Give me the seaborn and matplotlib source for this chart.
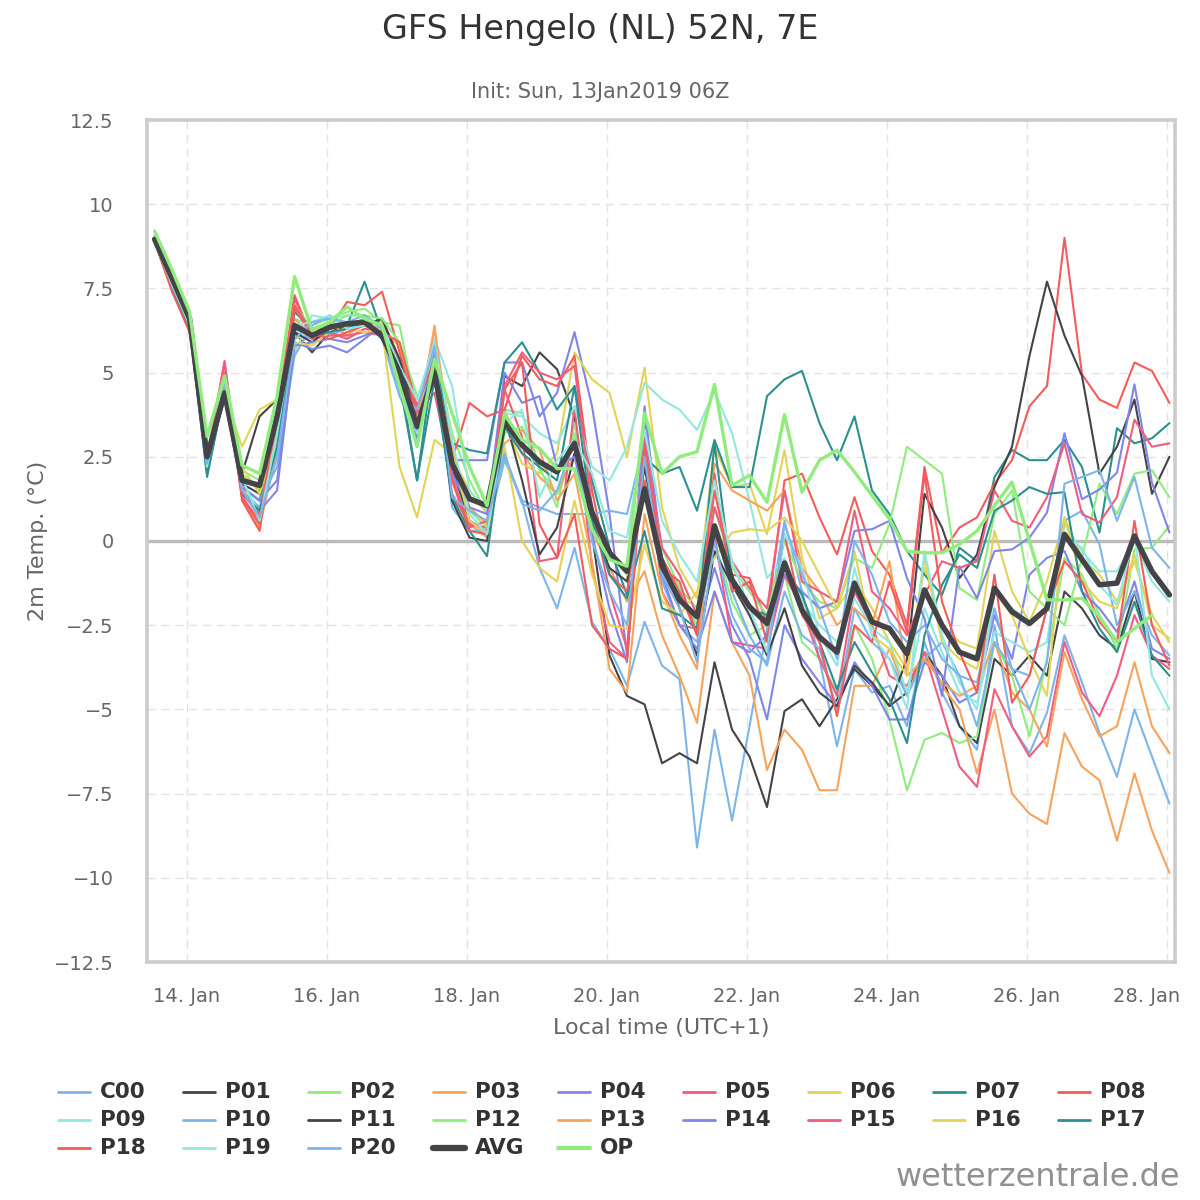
import numpy as np
import pandas as pd
import matplotlib
matplotlib.use("Agg")
import matplotlib.pyplot as plt
from matplotlib.lines import Line2D
from matplotlib.ticker import FixedLocator, FuncFormatter
from matplotlib.transforms import ScaledTranslation
import seaborn as sns

# ---------------- data ----------------
times = pd.date_range("2019-01-13 13:00", periods=59, freq="6h")

c00 = [8.9, 7.6, 6.5, 2.4, 4.6, 1.5, 1.0, 3.0, 6.2, 6.0,
       6.1, 6.3, 6.6, 6.0, 4.3, 3.2, 5.6, 2.0, 0.6, 0.3,
       2.5, 1.2, -0.8, -2.0, -0.2, -2.4, -3.2, -4.3, -2.4, -3.7,
       -4.1, -9.1, -5.6, -8.3, -5.5, -2.6, 0.6, -1.5, -3.5, -6.1,
       -3.8, -4.5, -4.3, -5.5, -3.0, -4.5, -5.5, -6.2, -2.5, -5.5,
       -6.3, -5.1, -2.8, -4.2, -5.7, -7.0, -5.0, -6.4, -7.8]
p01 = [9.0, 7.7, 6.5, 2.6, 4.3, 2.0, 3.7, 4.2, 6.2, 5.6,
       6.2, 6.4, 6.4, 6.6, 5.2, 3.2, 5.2, 2.2, 0.6, 0.2,
       4.9, 4.6, 5.6, 5.1, 3.7, 0.2, -3.4, -4.6, -4.85, -6.6,
       -6.3, -6.6, -3.6, -5.6, -6.4, -7.9, -5.05, -4.7, -5.5, -4.7,
       -3.8, -4.3, -4.9, -4.5, -3.3, -4.0, -5.5, -6.0, -3.5, -4.0,
       -3.4, -4.0, -1.5, -2.0, -2.8, -3.2, -1.5, -3.5, -3.6]
p02 = [9.1, 7.9, 6.7, 2.6, 4.6, 2.0, 1.5, 3.9, 6.6, 6.4,
       6.6, 6.8, 6.9, 6.5, 6.4, 3.8, 5.6, 3.2, 1.8, 0.8,
       3.9, 3.8, 2.2, 1.0, 3.5, 0.5, -0.5, -0.8, 2.2, -1.2,
       -1.5, -2.5, 0.0, -1.8, -2.8, -2.5, -1.0, -3.0, -3.5, -4.5,
       -2.5, -3.5, -5.3, -7.4, -5.9, -5.7, -6.0, -5.8, -3.0, -4.0,
       -5.8, -3.5, -0.5, -1.0, -2.2, -3.2, -0.25, -0.2, 0.45]
p03 = [9.0, 7.8, 6.6, 2.2, 4.8, 1.3, 0.4, 2.7, 6.6, 6.1,
       6.2, 6.0, 6.3, 6.4, 5.0, 3.3, 6.4, 1.8, 0.5, 0.1,
       3.9, 2.6, 1.9, 1.4, 2.6, 0.3, -0.8, -1.8, -0.9, -2.8,
       -4.0, -5.4, -1.5, -3.0, -4.0, -6.8, -5.6, -6.2, -7.4, -7.4,
       -4.3, -4.3, -3.2, -4.6, -3.3, -4.3, -5.0, -6.9, -5.0, -7.5,
       -8.1, -8.4, -5.7, -6.7, -7.1, -8.9, -6.9, -8.6, -9.85]
p04 = [8.9, 7.6, 6.4, 2.4, 4.3, 1.5, 0.9, 1.5, 5.9, 5.7,
       5.8, 5.6, 6.0, 6.4, 5.2, 3.0, 5.0, 2.4, 2.4, 2.4,
       5.3, 5.3, 3.7, 4.4, 6.2, 4.0, 0.8, -3.4, 4.0, -0.5,
       -1.5, -2.7, -0.8, -2.5, -3.5, -5.3, -2.5, -3.5, -4.2, -4.9,
       -3.6, -4.3, -5.3, -5.3, -3.6, -4.0, -4.8, -4.5, -2.2, -3.5,
       -1.0, -0.5, -0.3, -1.5, -2.0, -2.7, -1.2, -3.2, -3.5]
p05 = [8.9, 7.5, 6.3, 2.5, 5.35, 1.3, 0.6, 3.6, 7.2, 6.0,
       6.2, 6.0, 6.3, 6.2, 5.4, 3.5, 5.2, 1.4, 0.5, 0.4,
       4.5, 3.1, -0.6, -0.5, 4.0, -0.8, -3.0, -3.5, 3.3, -1.5,
       -2.5, -2.6, 0.2, -3.0, -3.1, -3.2, -1.0, -2.0, -3.5, -4.6,
       -1.5, -2.5, -4.0, -4.3, -3.3, -5.0, -6.7, -7.3, -4.4, -5.5,
       -6.4, -5.8, -3.0, -4.5, -5.2, -4.0, -2.2, -3.4, -3.8]
p06 = [9.0, 7.9, 6.6, 2.2, 4.3, 2.8, 3.9, 4.2, 6.0, 6.2,
       6.3, 6.5, 6.5, 6.2, 5.8, 3.8, 5.5, 2.5, 1.5, 0.8,
       3.5, 2.3, 2.0, 2.6, 5.6, 4.8, 4.4, 2.5, 5.15, 1.0,
       -0.8, -1.7, 2.8, 1.6, 1.7, 0.2, 2.7, -0.5, -2.3, -2.0,
       -1.2, -2.0, -3.0, -3.8, -0.8, -2.5, -3.0, -3.2, 0.3, -1.5,
       -2.4, -1.2, 0.7, -0.5, -1.0, -1.8, -0.6, -2.2, -3.0]
p07 = [8.9, 7.6, 6.4, 1.9, 4.5, 1.6, 1.2, 3.5, 6.8, 6.3,
       6.3, 6.4, 7.7, 6.2, 4.7, 1.8, 5.6, 2.9, 2.7, 2.6,
       5.3, 5.9, 5.0, 3.9, 4.6, 1.8, -0.2, -1.6, 2.5, 2.0,
       2.2, 0.9, 3.0, 1.6, 1.6, 4.3, 4.8, 5.05, 3.5, 2.4,
       3.7, 1.5, 0.8, -0.3, -1.0, -1.6, -0.2, -0.6, 1.9, 2.7,
       2.4, 2.4, 3.0, 2.2, 0.25, 3.35, 2.9, 3.05, 3.5]
p08 = [8.9, 7.5, 6.3, 2.4, 5.2, 1.2, 0.3, 3.8, 7.3, 6.0,
       6.3, 7.1, 7.0, 7.4, 5.6, 3.8, 5.0, 2.4, 4.1, 3.7,
       3.9, 5.5, 4.8, 4.6, 5.5, 1.5, -1.0, -1.5, 1.8, -0.5,
       -1.5, -2.8, 1.5, -1.0, -1.1, -2.4, 1.8, 2.0, 0.7, -0.4,
       1.3, -0.3, -1.0, -2.5, 2.2, -0.35, 0.4, 0.7, 1.7, 2.4,
       4.0, 4.6, 9.0, 4.95, 4.2, 3.95, 5.3, 5.05, 4.1]
p09 = [9.0, 7.7, 6.5, 2.6, 5.2, 1.8, 0.8, 3.0, 5.6, 6.7,
       6.6, 6.7, 6.7, 6.4, 4.6, 3.2, 6.0, 4.6, 1.5, 0.9,
       3.8, 3.7, 3.2, 2.9, 4.0, 2.2, 1.8, 2.8, 4.7, 4.2,
       3.9, 3.3, 4.45, 3.2, 1.2, -1.1, -0.5, -1.8, -2.5, -3.0,
       -1.7, -2.6, -3.0, -4.5, -2.0, -3.3, -4.5, -4.8, -2.7, -3.0,
       -3.3, -3.0, 0.5, -0.3, -0.9, -0.9, 0.0, -1.2, -1.8]
p10 = [8.9, 7.5, 6.4, 2.4, 4.6, 1.6, 1.2, 2.2, 5.5, 6.4,
       6.7, 6.4, 6.6, 6.1, 4.6, 3.3, 5.6, 1.0, 0.3, 0.3,
       2.4, 1.2, 1.0, 0.8, 0.8, 0.8, 0.9, 0.8, 3.0, -1.2,
       -2.5, -3.0, 0.5, -1.5, -2.8, -3.7, -1.5, -2.8, -3.2, -5.0,
       -2.0, -3.0, -3.5, -4.6, -3.5, -3.0, -4.0, -4.2, -2.0, -3.8,
       -4.0, -2.0, 0.6, 0.9, -0.1, -2.5, -1.5, -2.8, -3.4]
p11 = [8.9, 7.6, 6.4, 2.3, 4.3, 1.7, 1.4, 3.3, 6.2, 5.9,
       6.3, 6.5, 6.4, 6.6, 5.4, 3.6, 5.1, 1.2, 0.1, 0.0,
       3.7, 1.8, -0.4, 0.4, 2.6, 0.5, -0.8, -1.2, 2.2, -0.5,
       -2.0, -3.4, -0.3, -1.3, -2.2, -3.4, -2.0, -3.7, -4.5, -4.9,
       -3.7, -4.2, -4.9, -3.5, 1.4, 0.4, -1.1, -0.4, 1.6, 2.8,
       5.5, 7.7, 6.1, 4.9, 2.0, 2.8, 4.2, 1.4, 2.5]
p12 = [9.0, 7.8, 6.6, 2.5, 4.5, 2.1, 1.8, 3.8, 7.0, 6.3,
       6.4, 6.7, 6.7, 6.6, 5.9, 4.3, 5.0, 2.6, 0.9, 0.4,
       3.2, 3.4, 2.1, 1.4, 3.2, 0.8, -0.4, -1.0, 2.5, -0.2,
       -1.4, -2.0, 1.0, -0.8, -1.5, -2.2, 0.0, -1.2, -1.8, -2.0,
       -0.5, -0.8, 0.5, 2.8, 2.4, 2.0, -1.4, -1.75, 0.8, 1.5,
       -1.5, -2.0, -2.5, -0.5, 1.7, 0.8, 2.0, 2.1, 1.3]
p13 = [8.9, 7.6, 6.5, 2.5, 4.5, 1.6, 0.6, 3.5, 6.4, 6.3,
       6.5, 6.1, 6.5, 6.3, 4.8, 3.6, 6.3, 2.8, 1.0, 0.5,
       2.9, 3.3, 2.7, 1.2, 2.0, -0.6, -3.8, -4.5, 0.8, -1.5,
       -2.8, -3.8, 2.3, 1.5, 1.2, 0.9, 1.5, -0.8, -1.5, -2.5,
       -2.0, -2.5, -0.6, -4.0, -3.5, -4.2, -4.6, -4.3, -3.0, -4.5,
       -5.0, -6.1, -3.3, -4.7, -5.8, -5.5, -3.6, -5.5, -6.3]
p14 = [8.9, 7.5, 6.3, 2.5, 4.2, 1.6, 1.2, 1.8, 5.8, 5.9,
       6.0, 5.9, 6.1, 6.3, 4.9, 3.4, 5.5, 2.0, 1.0, 0.8,
       5.0, 4.1, 4.3, 2.2, 2.5, 0.2, -2.0, -3.6, 3.5, -1.0,
       -2.5, -3.2, -1.5, -3.0, -3.3, -2.8, -1.0, -1.5, -2.0, -1.8,
       0.3, 0.35, 0.6, -1.1, -2.3, -4.6, -0.75, -1.7, -0.3, -0.25,
       0.1, 0.84, 3.2, 1.24, 1.53, 2.03, 4.65, 1.73, 0.25]
p15 = [8.9, 7.6, 6.4, 2.4, 5.3, 1.4, 0.8, 3.4, 6.9, 6.1,
       6.1, 6.1, 6.2, 6.1, 5.0, 3.8, 4.4, 1.9, 0.4, 0.6,
       4.6, 5.6, 5.0, 4.8, 5.2, 1.0, -1.5, -3.2, 3.0, -0.2,
       -1.0, -2.2, 1.0, -0.6, -1.4, -2.0, 1.5, -1.2, -1.5, -1.8,
       0.9, -1.5, -2.0, -2.8, -1.6, -0.6, -0.8, -0.6, 1.5, 0.6,
       0.4, 1.3, 2.9, 0.8, 0.55, 1.3, 3.6, 2.8, 2.9]
p16 = [8.9, 7.7, 6.5, 2.3, 4.4, 2.2, 1.4, 3.0, 5.9, 5.8,
       6.2, 6.3, 6.2, 6.3, 2.2, 0.7, 3.0, 2.6, 0.6, 0.2,
       2.8, 0.0, -0.8, -1.2, 1.2, -1.0, -2.5, -2.6, -0.1, -1.8,
       -2.2, -1.5, -0.5, 0.25, 0.35, 0.3, 0.7, 0.0, -1.0, -2.0,
       -0.3, -2.8, -3.2, -4.0, -0.5, -3.0, -3.5, -3.8, -1.5, -2.2,
       -3.5, -4.6, 0.7, -1.2, -1.8, -2.0, -0.4, -2.5, -2.9]
p17 = [8.9, 7.5, 6.3, 2.0, 4.4, 1.4, 0.9, 2.8, 6.3, 6.1,
       6.2, 6.3, 6.5, 6.0, 4.9, 1.8, 4.8, 1.3, 0.3, -0.45,
       3.4, 2.6, 2.2, 1.8, 4.6, 0.6, -1.0, -1.7, 0.3, -2.0,
       -2.2, -2.6, 2.9, -1.2, -2.0, -2.2, -0.8, -1.6, -3.0, -4.4,
       -3.0, -3.9, -4.7, -6.0, -2.8, -1.3, -0.4, -0.8, 0.9, 1.2,
       1.6, 1.4, 1.45, -1.5, -2.6, -3.3, -1.8, -3.4, -4.0]
p18 = [8.9, 7.4, 6.2, 2.5, 5.0, 1.3, 0.5, 4.0, 7.0, 6.2,
       6.0, 6.2, 6.4, 6.2, 5.9, 4.0, 5.4, 1.8, 0.3, 0.2,
       4.5, 5.3, 0.5, -0.5, 0.8, -2.5, -3.2, -3.5, 2.8, -0.8,
       -1.2, -2.8, 2.0, -1.5, -1.2, -3.0, 0.2, -2.2, -3.0, -5.2,
       -2.5, -3.0, -1.2, -2.7, 2.0, -1.8, -3.3, -4.5, -1.0, -4.8,
       -4.0, -2.0, -0.6, -1.2, -2.4, -3.0, 0.6, -2.5, -3.7]
p19 = [8.9, 7.6, 6.4, 2.2, 4.9, 1.9, 0.6, 3.2, 6.4, 6.5,
       6.7, 6.3, 6.4, 6.4, 5.2, 4.2, 5.9, 3.0, 0.8, 0.2,
       3.5, 3.9, 1.3, 2.4, 3.0, 2.0, 0.3, 0.1, 3.3, 0.6,
       -0.4, -1.2, 1.8, -0.6, -2.0, -3.3, 0.2, -0.8, -2.8, -3.7,
       -0.8, -2.8, -3.5, -5.0, -0.3, -2.8, -4.2, -5.0, -1.5, -2.0,
       -2.4, -2.0, 0.1, -0.2, -1.3, -1.9, 0.2, -4.0, -5.0]
p20 = [9.0, 7.7, 6.5, 2.3, 4.7, 1.5, 0.7, 2.5, 6.0, 6.5,
       6.6, 6.5, 6.7, 6.3, 4.4, 3.9, 5.8, 1.3, 0.9, 0.6,
       2.6, 1.1, 0.9, 1.5, 3.0, 0.0, -1.5, -2.5, 2.5, -1.0,
       -2.0, -3.6, 0.0, -2.2, -3.2, -3.6, 0.5, -1.0, -2.0, -3.5,
       0.0, -1.0, -2.4, -3.0, -2.5, -3.5, -4.0, -5.5, -3.0, -3.8,
       -5.0, -3.6, 1.7, 1.9, 2.1, 0.6, 1.9, -0.2, -0.8]
avg = [8.96, 7.8, 6.6, 2.5, 4.4, 1.8, 1.65, 3.7, 6.4, 6.1,
       6.35, 6.45, 6.5, 6.1, 5.0, 3.4, 5.0, 2.3, 1.25, 1.05,
       3.55, 2.85, 2.35, 2.05, 2.9, 0.85, -0.35, -0.9, 1.55, -0.75,
       -1.75, -2.25, 0.45, -1.15, -1.95, -2.45, -0.65, -2.05, -2.85, -3.3,
       -1.25, -2.4, -2.6, -3.35, -1.45, -2.5, -3.3, -3.5, -1.4, -2.1,
       -2.45, -2.0, 0.2, -0.55, -1.3, -1.25, 0.15, -0.9, -1.6]
op = [9.2, 8.05, 6.8, 3.1, 4.9, 2.25, 2.0, 4.3, 7.85, 6.25,
      6.5, 6.95, 6.6, 6.4, 4.6, 2.8, 5.4, 3.8, 2.2, 1.05,
      3.75, 3.0, 2.75, 2.15, 2.15, 0.35, -0.55, -0.75, 3.8, 2.0,
      2.5, 2.65, 4.65, 1.65, 1.95, 1.15, 3.75, 1.45, 2.4, 2.7,
      2.05, 1.35, 0.65, -0.3, -0.35, -0.35, -0.1, 0.3, 1.05, 1.75,
      0.0, -1.75, -1.75, -1.7, -2.25, -3.0, -2.6, -2.2, np.nan]

series_names = ["C00", "P01", "P02", "P03", "P04", "P05", "P06", "P07", "P08",
                "P09", "P10", "P11", "P12", "P13", "P14", "P15", "P16", "P17",
                "P18", "P19", "P20", "AVG", "OP"]
series_values = [c00, p01, p02, p03, p04, p05, p06, p07, p08,
                 p09, p10, p11, p12, p13, p14, p15, p16, p17,
                 p18, p19, p20, avg, op]

x_tick_dates = pd.date_range("2019-01-14", "2019-01-28", freq="2D")
x_tick_labels = [f"{d.day}. Jan" for d in x_tick_dates]
y_ticks = [-12.5, -10, -7.5, -5, -2.5, 0, 2.5, 5, 7.5, 10, 12.5]

base_palette = ['#7cb5ec', '#434348', '#90ed7d', '#f7a35c', '#8085e9',
                '#f15c80', '#e4d354', '#2b908f', '#f45b5b', '#91e8e1']
colors = [base_palette[k % 10] for k in range(21)] + ['#434348', '#90ed7d']

# ---------------- style ----------------
sns.set_style("white")
plt.rcParams['font.family'] = ['DejaVu Sans']

W = H = 1200.0
fig = plt.figure(figsize=(12, 12), dpi=100)
L, R, T, B = 147, 1175, 120, 962
ax = fig.add_axes([L / W, 1 - B / H, (R - L) / W, (B - T) / H])

ax.axhline(0, color='#bbbbbb', lw=2.4, zorder=1.5)

for name, vals, col in zip(series_names, series_values, colors):
    lw, z = 1.5, 2
    if name == "AVG":
        lw, z = 3.9, 3
    elif name == "OP":
        lw, z = 2.4, 4
    sns.lineplot(x=times, y=np.array(vals, dtype=float), color=col, lw=lw,
                 ax=ax, zorder=z, legend=False, errorbar=None)

ax.set_ylim(-12.5, 12.5)
ax.set_xlim(pd.Timestamp("2019-01-14") - pd.Timedelta(hours=13.6),
            pd.Timestamp("2019-01-28") + pd.Timedelta(hours=2.9))
ax.xaxis.set_major_locator(FixedLocator(matplotlib.dates.date2num(x_tick_dates)))
ax.set_xticklabels(x_tick_labels)
ax.yaxis.set_major_locator(FixedLocator(y_ticks))
ax.yaxis.set_major_formatter(FuncFormatter(lambda v, p: f"{v:g}".replace('-', '\u2212')))

ax.grid(True, color='#e3e3e3', linestyle=(0, (6, 4)), lw=1.0, zorder=0)
ax.set_axisbelow(True)
for s in ax.spines.values():
    s.set_color('#cccccc')
    s.set_linewidth(2.6)
    s.set_visible(True)

ax.tick_params(axis='x', length=9, width=1, color='#ccd6eb', direction='out',
               pad=9, labelsize=14, labelcolor='#666666')
ax.tick_params(axis='y', length=0, pad=24, labelsize=14, labelcolor='#666666')
ax.set_xlabel("")
ax.set_ylabel("")

# keep last date label inside the figure (as Highcharts does)
last_lbl = ax.get_xticklabels()[-1]
last_lbl.set_ha('right')
last_lbl.set_transform(last_lbl.get_transform() +
                       ScaledTranslation(14 / 100, 0, fig.dpi_scale_trans))

# titles / axis titles
fig.text(0.5, 1 - 30 / H, "GFS Hengelo (NL) 52N, 7E", ha='center', va='center',
         fontsize=24, color='#333333')
fig.text(0.5, 1 - 92 / H, "Init: Sun, 13Jan2019 06Z", ha='center', va='center',
         fontsize=15, color='#666666')
fig.text(661 / W, 1 - 1028 / H, "Local time (UTC+1)", ha='center', va='center',
         fontsize=16, color='#666666')
fig.text(38 / W, 1 - 541 / H, "2m Temp. (\u00b0C)", ha='center', va='center',
         rotation=90, fontsize=16, color='#666666')

# legend (Highcharts-like, 9 columns, row-wise)
for k, (name, col) in enumerate(zip(series_names, colors)):
    r, c = divmod(k, 9)
    yy = 1 - (1092 + 28 * r) / H
    x0 = (58 + 125 * c) / W
    x1 = (90 + 125 * c) / W
    lw = 2.0
    if name == "AVG":
        lw = 4.5
    elif name == "OP":
        lw = 3.0
    fig.add_artist(Line2D([x0, x1], [yy, yy], color=col, lw=lw,
                          transform=fig.transFigure))
    fig.text((100 + 125 * c) / W, yy, name, ha='left', va='center',
             fontsize=15.5, fontweight='bold', color='#333333')

fig.text(1180 / W, 1 - 1178 / H, "wetterzentrale.de", ha='right', va='center',
         fontsize=23, color='#909090')

fig.savefig("out.png", dpi=100)
